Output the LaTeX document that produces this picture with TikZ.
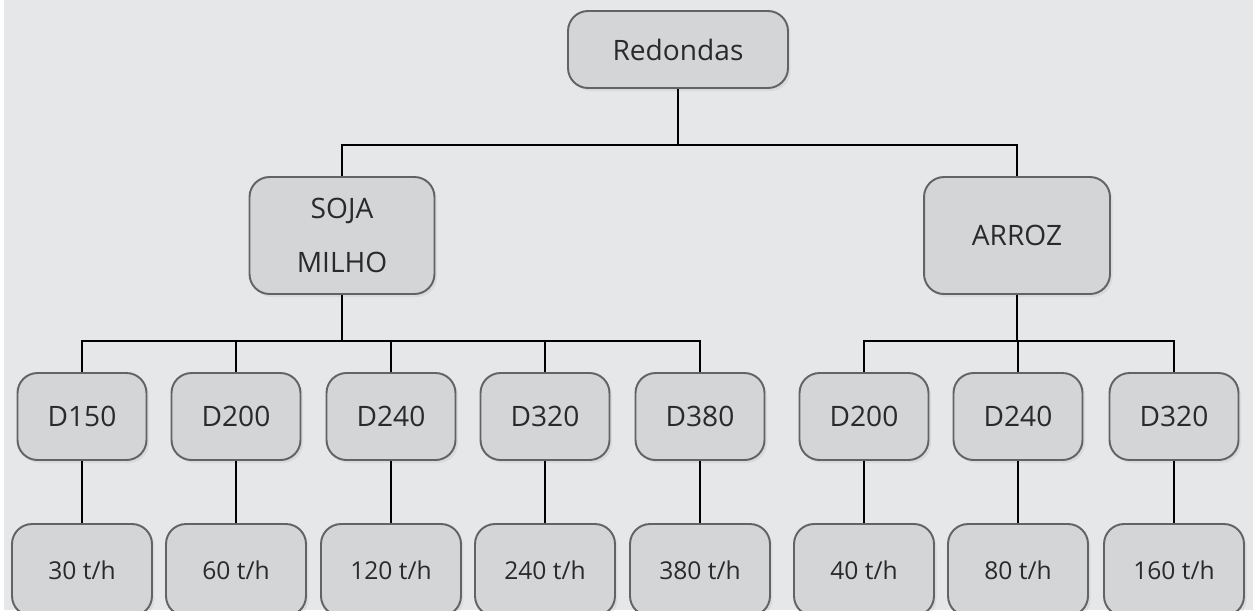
\documentclass[tikz,border=0pt]{standalone}
\usepackage{fontspec}
\setmainfont{Open Sans}
\usetikzlibrary{shadows}
\definecolor{bg}{HTML}{E6E7E8}
\definecolor{boxfill}{HTML}{D4D5D7}
\definecolor{boxline}{HTML}{626365}
\definecolor{txt}{HTML}{2B2A2B}
\tikzset{
  box/.style={draw=boxline, fill=boxfill, line width=1.1pt, rounded corners=0.4cm,
    text=txt, font=\fontsize{16}{19}\selectfont,
    drop shadow={shadow xshift=0.05cm, shadow yshift=-0.06cm, opacity=0.12}},
  dbox/.style={box, minimum width=2.58cm, minimum height=1.74cm},
  rbox/.style={box, minimum width=2.8cm, minimum height=1.84cm, font=\fontsize{14}{17}\selectfont},
  link/.style={line width=1.1pt, black}
}
\begin{document}
\begin{tikzpicture}[x=0.02cm, y=-0.02cm]
    \clip (0,0) rectangle (1253,610);
    \fill[white] (0,0) rectangle (4,610);
    \fill[bg] (4,0) rectangle (1253,610);
    % top levels
    \node[box, minimum width=4.4cm, minimum height=1.54cm] (red) at (678,49.5) {Redondas};
    \node[box, minimum width=3.7cm, minimum height=2.34cm, align=center,
      font=\fontsize{16}{31}\selectfont] (soja) at (342,235.5) {SOJA\\MILHO};
    \node[box, minimum width=3.72cm, minimum height=2.34cm] (arroz) at (1017,235.5) {ARROZ};
    \coordinate (j1) at (678,145);
    \draw[link] (red) -- (j1);
    \draw[link] (j1) -| (soja);
    \draw[link] (j1) -| (arroz);
    % diameters and rates
    \foreach \lab/\rate/\x [count=\i] in {D150/30/82, D200/60/236, D240/120/391, D320/240/545,
      D380/380/700, D200/40/864, D240/80/1018, D320/160/1174}
    {
      \node[dbox] (d\i) at (\x,416.5) {\lab};
      \node[rbox] (r\i) at (\x,570) {\rate~t/h};
      \draw[link] (d\i) -- (r\i);
    }
    \coordinate (j2) at (342,341);
    \draw[link] (soja) -- (j2);
    \foreach \i in {1,...,5}
      \draw[link] (j2) -| (d\i);
    \coordinate (j3) at (1017,341);
    \draw[link] (arroz) -- (j3);
    \foreach \i in {6,7,8}
      \draw[link] (j3) -| (d\i);
\end{tikzpicture}
\end{document}
